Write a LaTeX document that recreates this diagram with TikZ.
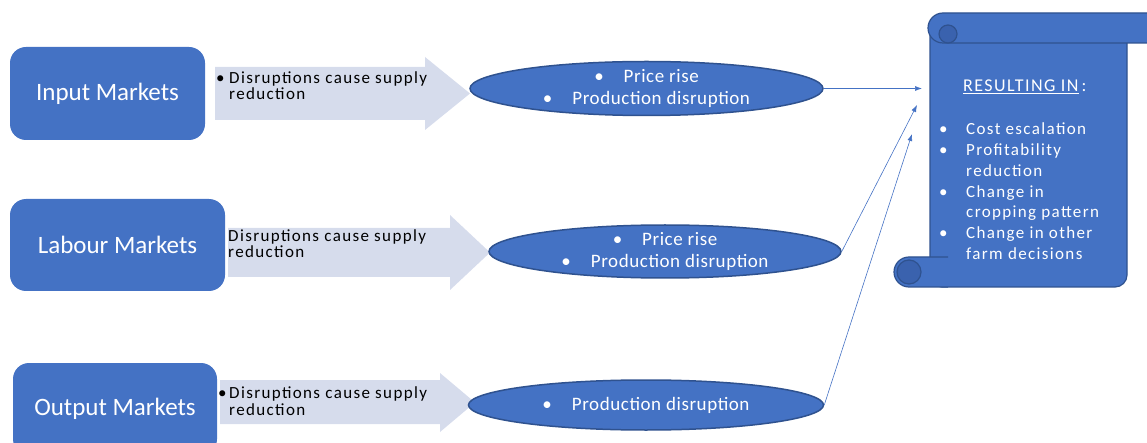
\documentclass[tikz,border=0pt]{standalone}
\usepackage{fontspec}
\setmainfont{Carlito}
\newfontfamily\spaced[LetterSpace=8]{Carlito}
\newfontfamily\lightspaced[LetterSpace=3]{Carlito}
\usetikzlibrary{shapes.geometric,arrows.meta}
\definecolor{obox}{HTML}{4472C4}
\definecolor{oedge}{HTML}{2F528F}
\definecolor{oarrow}{HTML}{D6DCEC}
\definecolor{ocurl}{HTML}{3A62AE}
\begin{document}
\begin{tikzpicture}[x=1pt,y=-1pt,
 market/.style={rounded corners=16pt, fill=obox, text=white, inner sep=0pt, font=\fontsize{25}{28}\selectfont},
 blockarrow/.style={fill=oarrow},
 arrtext/.style={anchor=base west, inner sep=0pt, font=\spaced\fontsize{17}{17}\selectfont, text=black},
 effect/.style={ellipse, fill=obox, draw=oedge, line width=1.5pt, inner sep=0pt},
 efftext/.style={text=white, inner sep=0pt, align=center, font=\lightspaced\fontsize{19}{22}\selectfont},
 link/.style={draw=obox, line width=0.6pt, -{Latex[length=7pt,width=5pt]}},
 scrollpart/.style={fill=obox, draw=oedge, line width=1.2pt},
 curl/.style={fill=ocurl, draw=oedge, line width=1.2pt},
 restext/.style={anchor=base west, inner sep=0pt, text=white, font=\spaced\fontsize{17}{20}\selectfont}]
\useasboundingbox (0,0) rectangle (1147,443);

% market boxes
\node[market, minimum width=195pt, minimum height=93pt] (input) at (107.5,93.5) {Input Markets};
\node[market, minimum width=215pt, minimum height=92pt] (labour) at (117.5,245) {Labour Markets};
\node[market, minimum width=204pt, minimum height=92pt] (output) at (115,409) {Output Markets};

% block arrows
\fill[blockarrow] (215,67) -- (425,67) -- (425,57) -- (470,93.5) -- (425,130) -- (425,120) -- (215,120) -- cycle;
\fill[blockarrow] (228,228) -- (450,228) -- (450,215) -- (490,252.5) -- (450,290) -- (450,277) -- (228,277) -- cycle;
\fill[blockarrow] (220,380) -- (440,380) -- (440,373) -- (475,402.5) -- (440,432) -- (440,424) -- (220,424) -- cycle;

% arrow texts
\node[arrtext] (b1) at (216,84) {\textbullet};
\node[arrtext] (t1a) at (229,84) {Disruptions cause supply};
\node[arrtext] (t1b) at (229,100) {reduction};
\node[arrtext] (t2a) at (228,242) {Disruptions cause supply};
\node[arrtext] (t2b) at (228,258) {reduction};
\node[arrtext] (b3) at (218,398) {\textbullet};
\node[arrtext] (t3a) at (229,398) {Disruptions cause supply};
\node[arrtext] (t3b) at (229,415) {reduction};

% ellipses
\node[effect, minimum width=353pt, minimum height=54pt] (e1) at (646.5,88.5) {};
\node[efftext] (e1t) at (e1.center) {\textbullet\hspace{20pt}Price rise\\\textbullet\hspace{20pt}Production disruption};
\node[effect, minimum width=352pt, minimum height=53pt] (e2) at (665,251.5) {};
\node[efftext] (e2t) at (e2.center) {\textbullet\hspace{20pt}Price rise\\\textbullet\hspace{20pt}Production disruption};
\node[effect, minimum width=355pt, minimum height=50pt] (e3) at (646,405) {};
\node[efftext] (e3t) at (e3.center) {\textbullet\hspace{20pt}Production disruption};

% scroll
\draw[scrollpart, rounded corners=12pt] (930,30) -- (930,287) -- (1127,287) -- (1127,30);
\draw[scrollpart, rounded corners=15pt] (928,13) rectangle (1180,43);
\draw[curl] (948,34) circle[radius=9pt];
\draw[scrollpart, rounded corners=15pt] (948,257) -- (894,257) -- (894,287) -- (948,287);
\draw[curl] (909,272) circle[radius=12pt];

% scroll texts
\node[restext, font=\spaced\fontsize{18}{20}\selectfont] (rh) at (963,92) {\underline{RESULTING IN}\,:};
\node[restext] (rb1) at (939,135) {\textbullet};
\node[restext] (r1) at (966,135) {Cost escalation};
\node[restext] (rb2) at (939,156) {\textbullet};
\node[restext] (r2) at (966,156) {Profitability};
\node[restext] (r3) at (966,177) {reduction};
\node[restext] (rb4) at (939,198) {\textbullet};
\node[restext] (r4) at (966,198) {Change in};
\node[restext] (r5) at (966,218) {cropping pattern};
\node[restext] (rb6) at (939,239) {\textbullet};
\node[restext] (r6) at (966,239) {Change in other};
\node[restext] (r7) at (966,260) {farm decisions};

% connectors
\coordinate (h1) at (922,88.5);
\coordinate (h2) at (917,105);
\coordinate (h3) at (912,134);
\draw[link] (e1.east) -- (h1);
\draw[link] (e2.east) -- (h2);
\draw[link] (e3.east) -- (h3);
\end{tikzpicture}
\end{document}
